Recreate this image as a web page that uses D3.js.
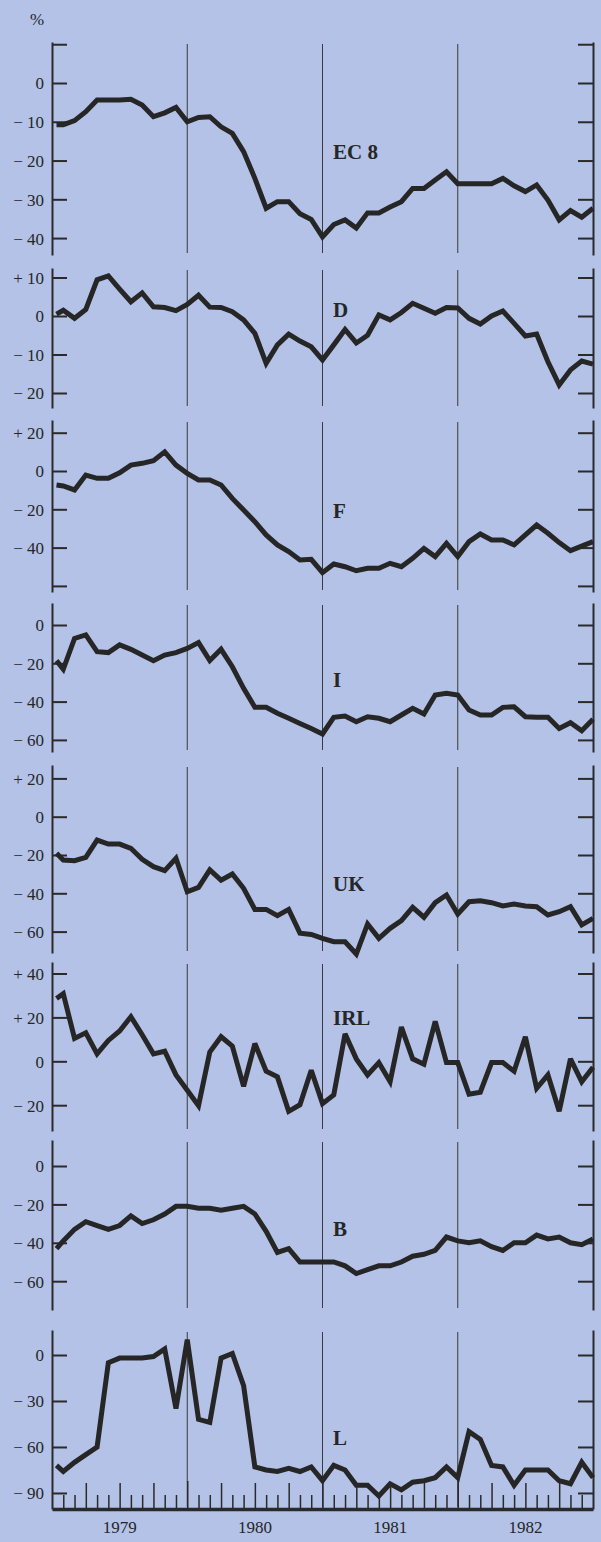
<!DOCTYPE html>
<html>
<head>
<meta charset="utf-8">
<script src="https://d3js.org/d3.v7.min.js"></script>
<style>
  body { margin: 0; background: #b3c2e6; }
  svg { display: block; }
  .chart text { font-family: "Liberation Serif", "Times New Roman", serif; fill: #262626; }
  .chart .domain, .chart .tick line { stroke: #2a2a2a; stroke-width: 2; }
  .chart .series { fill: none; stroke: #262626; stroke-width: 5; stroke-linejoin: miter; stroke-miterlimit: 3; }
  .chart .year { stroke: #3a3a3a; stroke-width: 1; }
</style>
</head>
<body>
<svg class="chart" width="601" height="1542"></svg>
<script>
// month position of each reading (first reading sits just inside Jan 1979)
var months = [0.4].concat(d3.range(1, 49));
var years = ["1979", "1980", "1981", "1982"];

var ec8 = [-10.8, -10.8, -9.7, -7.4, -4.4, -4.4, -4.4, -4.2, -5.7, -8.7, -7.7, -6.3, -10,
  -8.9, -8.7, -11.3, -13, -17.7, -24.6, -32.3, -30.6, -30.6, -33.7, -35.2, -39.7,
  -36.5, -35.3, -37.4, -33.5, -33.5, -32, -30.6, -27.2, -27.2, -25, -22.9, -26,
  -26, -26, -26, -24.6, -26.5, -28, -26.3, -30.2, -35.3, -32.9, -34.6, -32.3];
var de = [0.5, 1.5, -0.6, 1.7, 9.4, 10.4, 7, 3.7, 6, 2.4, 2.2, 1.4, 3,
  5.4, 2.3, 2.2, 1.1, -1, -4.5, -12.3, -7.5, -4.7, -6.5, -8, -11.4,
  -7.5, -3.5, -7, -5, 0.3, -1, 0.9, 3.3, 2, 0.7, 2.2, 2.1,
  -0.6, -2.1, 0, 1.3, -1.9, -5.2, -4.7, -11.9, -17.9, -14, -11.7, -12.5];
var fr = [-7.3, -7.8, -9.9, -2.1, -3.8, -3.8, -0.9, 3.1, 4, 5.4, 10, 3.1, -1.2,
  -4.7, -4.7, -7.3, -14.3, -20.4, -26.5, -33.4, -38.6, -42.1, -46.5, -46.1, -53.1,
  -48.6, -50, -52.1, -50.8, -50.8, -48.2, -50, -45.6, -40.4, -44.7, -37.8, -44.7,
  -36.9, -32.9, -36, -36, -38.6, -33.4, -28.2, -32.5, -37.4, -41.6, -39.2, -36.9];
var it = [-18.6, -23.1, -7, -5.2, -13.9, -14.4, -10.4, -12.7, -15.7, -18.6, -15.7, -14.4, -12.2,
  -9.2, -18.6, -12.7, -21.8, -33.1, -43, -43, -46.1, -48.7, -51.4, -54, -56.9,
  -48.2, -47.5, -50.5, -47.9, -48.7, -50.5, -47, -43.5, -46.5, -36.6, -35.7, -36.6,
  -44.4, -47, -47, -43, -42.7, -47.9, -48.2, -48.2, -54, -51, -55.2, -49.2];
var uk = [-19.1, -22.6, -23, -21.2, -12.2, -14.3, -14.3, -16.5, -22.2, -26.1, -28.2, -21.7, -39.2,
  -36.9, -27.8, -33.1, -29.9, -37.4, -48.4, -48.4, -51.7, -48.4, -60.8, -61.5, -63.5,
  -65.3, -65.3, -71.7, -56, -63.5, -58.3, -54.3, -47.3, -52.5, -44.9, -40.9, -50.8,
  -44.4, -43.9, -44.9, -46.6, -45.6, -46.6, -47, -51.3, -49.6, -47, -56.5, -53.1];
var irl = [28.6, 30.8, 10.4, 13, 3.4, 9.5, 13.8, 20.3, 12.1, 3.4, 4.6, -6.2, -13.2,
  -20.2, 4.2, 11.2, 6.9, -11.4, 8.1, -4.5, -7.1, -22.8, -19.8, -4.1, -19.3,
  -15.3, 12.5, 1.1, -6.2, -0.6, -9.3, 15.6, 1.1, -1.3, 18.2, -0.6, -0.6,
  -15, -14.1, -0.6, -0.6, -4.5, 11.2, -12.3, -6.2, -22.8, 1.1, -9.3, -2.7];
var be = [-43, -39, -33, -29, -31, -33, -31, -26, -30, -28, -25, -21, -21,
  -22, -22, -23, -22, -21, -25, -34, -45, -43, -50, -50, -50,
  -50, -52, -56, -54, -52, -52, -50, -47, -46, -44, -37, -39,
  -40, -39, -42, -44, -40, -40, -36, -38, -37, -40, -41, -38];
var lu = [-72, -76, -70, -65, -60, -5, -2, -2, -2, -1, 4, -35, 10,
  -42, -44, -2, 1, -20, -73, -75, -76, -74, -76, -73, -82,
  -72, -75, -85, -85, -92, -84, -88, -83, -82, -80, -73, -80,
  -50, -55, -72, -73, -85, -75, -75, -75, -82, -84, -70, -80];

var names = ["EC 8", "D", "F", "I", "UK", "IRL", "B", "L"];
var seriesValues = [ec8, de, fr, it, uk, irl, be, lu];
var tickValues = [
  [10, 0, -10, -20, -30, -40],
  [10, 0, -10, -20],
  [20, 0, -20, -40, -60],
  [0, -20, -40, -60],
  [20, 0, -20, -40, -60],
  [40, 20, 0, -20],
  [0, -20, -40, -60],
  [0, -30, -60, -90]
];
var unlabelled = [[10], [], [-60], [], [], [], [], []];

// layout: pixel rows of each panel (top, bottom of axis, zero line, px per unit)
var layout = [
  { top: 42, bottom: 255, zero: 83, unit: 3.877, labelY: 159 },
  { top: 268, bottom: 408, zero: 316, unit: 3.85, labelY: 317 },
  { top: 420, bottom: 592, zero: 471, unit: 1.915, labelY: 518 },
  { top: 603, bottom: 752, zero: 625, unit: 1.915, labelY: 687 },
  { top: 765, bottom: 953, zero: 816.7, unit: 1.915, labelY: 891 },
  { top: 962, bottom: 1131, zero: 1061.3, unit: 2.195, labelY: 1025 },
  { top: 1140, bottom: 1310, zero: 1166, unit: 1.92, labelY: 1236 },
  { top: 1330, bottom: 1509, zero: 1355, unit: 1.533, labelY: 1445 }
];

var svg = d3.select(".chart");
var x = d3.scaleLinear().domain([0, 48]).range([52, 593]);

function fmt(v) {
  if (v > 0) return "+ " + v;
  if (v < 0) return "\u2212 " + (-v);
  return "0";
}

svg.append("text").attr("x", 37).attr("y", 25)
  .attr("text-anchor", "middle").style("font-size", "17px").text("%");

layout.forEach(function (p, i) {
  var y = d3.scaleLinear()
    .domain([(p.zero - p.bottom) / p.unit, (p.zero - p.top) / p.unit])
    .range([p.bottom, p.top]);
  var g = svg.append("g");

  // year separators
  g.selectAll("line.year").data([12, 24, 36]).enter().append("line")
    .attr("class", "year")
    .attr("x1", function (d) { return x(d); }).attr("x2", function (d) { return x(d); })
    .attr("y1", p.top + 2).attr("y2", p.bottom - 2);

  var left = g.append("g").attr("transform", "translate(" + x(0) + ",0)")
    .call(d3.axisLeft(y).tickValues(tickValues[i]).tickSizeInner(-15).tickSizeOuter(0)
      .tickPadding(8)
      .tickFormat(function (d) { return unlabelled[i].indexOf(d) >= 0 ? "" : fmt(d); }));
  left.selectAll("text").style("font-size", "17px").attr("dy", "0.35em");

  g.append("g").attr("transform", "translate(" + x(48) + ",0)")
    .call(d3.axisRight(y).tickValues(tickValues[i]).tickSizeInner(-15).tickSizeOuter(0)
      .tickFormat(""));

  g.append("path").datum(seriesValues[i]).attr("class", "series")
    .attr("d", d3.line()
      .x(function (d, j) { return x(months[j]); })
      .y(function (d) { return y(d); }));

  g.append("text").attr("x", 333).attr("y", p.labelY)
    .style("font-size", "21px").style("font-weight", "bold").text(names[i]);
});

// bottom month axis
var bottomY = 1509;
var monthTicks = d3.range(1, 48);
svg.append("g").attr("transform", "translate(0," + bottomY + ")")
  .call(d3.axisTop(x).tickValues(monthTicks).tickSizeOuter(0).tickFormat(""))
  .call(function (a) {
    a.select(".domain").style("stroke-width", 3.5);
    a.selectAll(".tick line").style("stroke-width", 1.5)
      .attr("y2", function (d) { return d % 12 === 0 ? -28 : (d % 3 === 0 ? -26 : -14); });
  });

svg.selectAll("text.yr").data(years).enter().append("text")
  .attr("class", "yr")
  .attr("x", function (d, i) { return x(i * 12 + 6); })
  .attr("y", 1533).attr("text-anchor", "middle").style("font-size", "17px")
  .text(function (d) { return d; });
</script>
</body>
</html>
